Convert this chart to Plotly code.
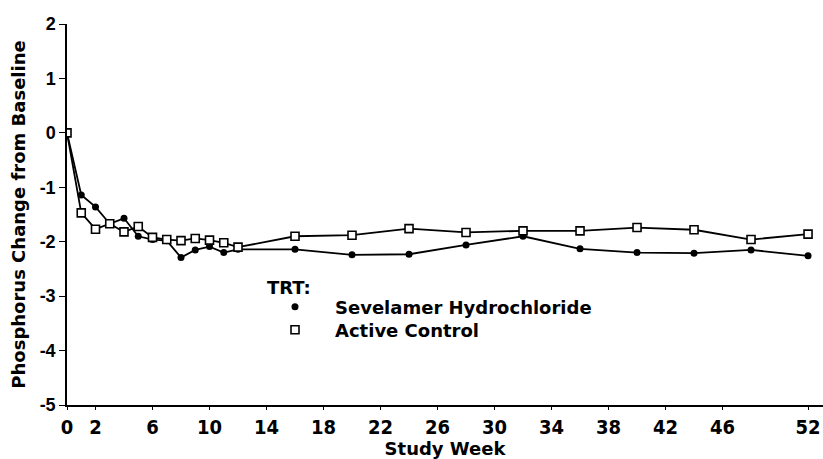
import plotly.graph_objects as go

weeks = [0, 1, 2, 3, 4, 5, 6, 7, 8, 9, 10, 11, 12, 16, 20, 24, 28, 32, 36, 40, 44, 48, 52]
sevelamer = [0, -1.14, -1.36, -1.67, -1.57, -1.90, -1.96, -1.98, -2.29, -2.15, -2.09, -2.20, -2.14,
             -2.14, -2.24, -2.23, -2.06, -1.90, -2.13, -2.20, -2.21, -2.15, -2.26]
active = [0, -1.47, -1.77, -1.67, -1.82, -1.72, -1.92, -1.96, -1.98, -1.94, -1.97, -2.02, -2.10,
          -1.90, -1.88, -1.76, -1.83, -1.80, -1.80, -1.74, -1.78, -1.96, -1.86]
x_ticks = [0, 2, 6, 10, 14, 18, 22, 26, 30, 34, 38, 42, 46, 52]
y_ticks = [2, 1, 0, -1, -2, -3, -4, -5]

SANS = "Liberation Sans, Arial, sans-serif"
WIDE = "DejaVu Sans, Verdana, sans-serif"
NARROW = "Liberation Sans Narrow, DejaVu Sans Condensed, Arial Narrow, sans-serif"

W, H = 823, 459
PL, PR, PT, PB = 67, 823, 24, 405  # plot area in pixels


def px(xp):
    return (xp - PL) / (PR - PL)


def py(yp):
    return (PB - yp) / (PB - PT)


fig = go.Figure()
fig.add_trace(go.Scatter(x=weeks, y=sevelamer, mode="lines", showlegend=False,
                         line=dict(color="black", width=1.8), hoverinfo="skip"))
fig.add_trace(go.Scatter(x=weeks, y=active, mode="lines", showlegend=False,
                         line=dict(color="black", width=1.8), hoverinfo="skip"))
fig.add_trace(go.Scatter(
    x=weeks, y=sevelamer, mode="markers", name="<b>Sevelamer Hydrochloride</b>",
    marker=dict(symbol="circle", size=7, color="black"), legend="legend",
))
fig.add_trace(go.Scatter(
    x=weeks, y=active, mode="markers", name="<b>Active Control</b>",
    marker=dict(symbol="square", size=8, color="white", line=dict(color="black", width=1.6)),
    legend="legend2",
))

legend_common = dict(
    xanchor="left", yanchor="middle",
    bgcolor="rgba(0,0,0,0)", font=dict(size=18, family=WIDE),
    itemwidth=70, itemsizing="trace",
)

fig.update_layout(
    width=W, height=H,
    margin=dict(l=PL, r=W - PR, t=PT, b=H - PB),
    paper_bgcolor="white", plot_bgcolor="white",
    font=dict(family=SANS, color="black", size=17),
    showlegend=True,
    legend=dict(x=px(255), y=py(307), **legend_common),
    legend2=dict(x=px(255), y=py(330), **legend_common),
    annotations=[dict(
        text="<b>TRT:</b>", x=px(265), y=py(287), xref="paper", yref="paper",
        xanchor="left", yanchor="middle",
        showarrow=False, font=dict(size=18, family=WIDE),
    )],
)

fig.update_xaxes(
    range=[0, 53.05], tickvals=x_ticks, ticktext=[f"<b>{t}</b>" for t in x_ticks],
    showline=True, linecolor="black", linewidth=1.5, showgrid=False, zeroline=False,
    ticks="outside", ticklen=3, tickcolor="black", automargin=False,
    tickfont=dict(size=20, family=NARROW),
    title=dict(text="<b>Study Week</b>", font=dict(size=18, family=WIDE), standoff=4),
)
fig.update_yaxes(
    range=[-5, 2], tickvals=y_ticks, ticktext=[f"<b>{t}</b>" for t in y_ticks],
    showline=True, linecolor="black", linewidth=1.5, showgrid=False, zeroline=False,
    ticks="outside", ticklen=6, tickcolor="black", automargin=False,
    tickfont=dict(size=18, family=SANS),
    title=dict(text="<b>Phosphorus Change from Baseline</b>", font=dict(size=18, family=WIDE), standoff=9),
)

fig.write_html("out.html", config={"displayModeBar": False},
               post_script="document.body.style.margin='0px';")
